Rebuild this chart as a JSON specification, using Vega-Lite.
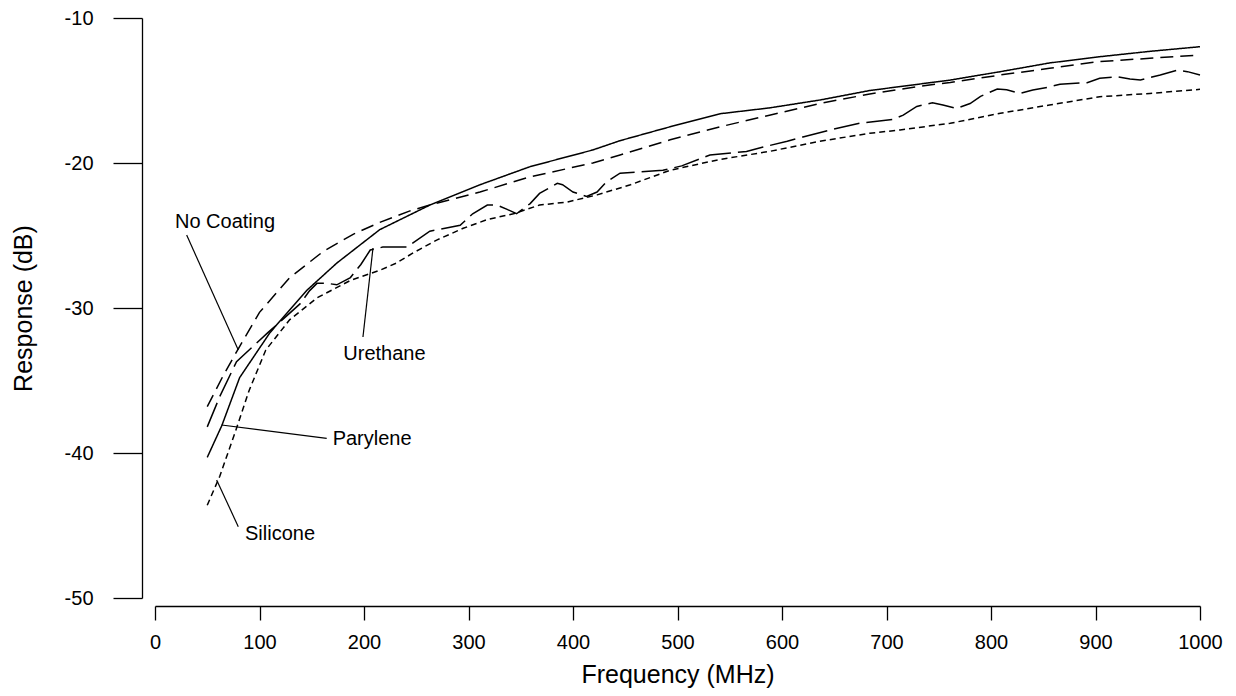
{
  "$schema": "https://vega.github.io/schema/vega-lite/v6.json",
  "width": 1045,
  "height": 580,
  "autosize": {"type": "none"},
  "padding": {"left": 155, "top": 18, "right": 36, "bottom": 98},
  "background": "white",
  "config": {
    "view": {"stroke": null},
    "font": "Liberation Sans",
    "axis": {
      "grid": false,
      "domainColor": "black",
      "domainWidth": 1.3,
      "tickColor": "black",
      "tickWidth": 1.3,
      "labelColor": "black",
      "labelFontSize": 20,
      "labelFont": "Liberation Sans",
      "titleFont": "Liberation Sans",
      "titleFontSize": 25,
      "titleFontWeight": "normal",
      "titleColor": "black",
      "labelFlush": false,
      "labelOverlap": false,
      "labelBound": false,
      "labelExpr": "'' + datum.value"
    }
  },
  "datasets": {
    "curves": [
      {"series": "No Coating", "f": 50, "v": -36.8},
      {"series": "No Coating", "f": 65, "v": -34.7},
      {"series": "No Coating", "f": 79, "v": -32.9},
      {"series": "No Coating", "f": 100, "v": -30.3},
      {"series": "No Coating", "f": 129, "v": -27.9},
      {"series": "No Coating", "f": 161, "v": -26.1},
      {"series": "No Coating", "f": 190, "v": -24.9},
      {"series": "No Coating", "f": 215, "v": -24.1},
      {"series": "No Coating", "f": 244, "v": -23.3},
      {"series": "No Coating", "f": 263, "v": -22.9},
      {"series": "No Coating", "f": 311, "v": -22.0},
      {"series": "No Coating", "f": 359, "v": -20.95},
      {"series": "No Coating", "f": 419, "v": -20.0},
      {"series": "No Coating", "f": 445, "v": -19.45},
      {"series": "No Coating", "f": 493, "v": -18.4},
      {"series": "No Coating", "f": 541, "v": -17.5},
      {"series": "No Coating", "f": 588, "v": -16.7},
      {"series": "No Coating", "f": 636, "v": -15.9},
      {"series": "No Coating", "f": 684, "v": -15.24},
      {"series": "No Coating", "f": 732, "v": -14.7},
      {"series": "No Coating", "f": 761, "v": -14.45},
      {"series": "No Coating", "f": 809, "v": -13.93},
      {"series": "No Coating", "f": 856, "v": -13.47},
      {"series": "No Coating", "f": 904, "v": -13.0},
      {"series": "No Coating", "f": 952, "v": -12.78},
      {"series": "No Coating", "f": 1000, "v": -12.55},

      {"series": "Parylene", "f": 50, "v": -40.3},
      {"series": "Parylene", "f": 64, "v": -38.1},
      {"series": "Parylene", "f": 81, "v": -34.8},
      {"series": "Parylene", "f": 110, "v": -31.7},
      {"series": "Parylene", "f": 145, "v": -28.8},
      {"series": "Parylene", "f": 174, "v": -26.9},
      {"series": "Parylene", "f": 215, "v": -24.6},
      {"series": "Parylene", "f": 263, "v": -22.9},
      {"series": "Parylene", "f": 311, "v": -21.5},
      {"series": "Parylene", "f": 359, "v": -20.25},
      {"series": "Parylene", "f": 419, "v": -19.1},
      {"series": "Parylene", "f": 445, "v": -18.46},
      {"series": "Parylene", "f": 493, "v": -17.5},
      {"series": "Parylene", "f": 541, "v": -16.6},
      {"series": "Parylene", "f": 588, "v": -16.2},
      {"series": "Parylene", "f": 636, "v": -15.66},
      {"series": "Parylene", "f": 684, "v": -15.0},
      {"series": "Parylene", "f": 713, "v": -14.73},
      {"series": "Parylene", "f": 761, "v": -14.28},
      {"series": "Parylene", "f": 809, "v": -13.7},
      {"series": "Parylene", "f": 856, "v": -13.1},
      {"series": "Parylene", "f": 904, "v": -12.67},
      {"series": "Parylene", "f": 952, "v": -12.3},
      {"series": "Parylene", "f": 1000, "v": -11.98},

      {"series": "Urethane", "f": 50, "v": -38.2},
      {"series": "Urethane", "f": 62, "v": -36.1},
      {"series": "Urethane", "f": 78, "v": -33.7},
      {"series": "Urethane", "f": 108, "v": -31.7},
      {"series": "Urethane", "f": 122, "v": -30.8},
      {"series": "Urethane", "f": 139, "v": -29.7},
      {"series": "Urethane", "f": 148, "v": -28.8},
      {"series": "Urethane", "f": 155, "v": -28.3},
      {"series": "Urethane", "f": 165, "v": -28.3},
      {"series": "Urethane", "f": 174, "v": -28.4},
      {"series": "Urethane", "f": 187, "v": -27.9},
      {"series": "Urethane", "f": 197, "v": -27.0},
      {"series": "Urethane", "f": 206, "v": -26.0},
      {"series": "Urethane", "f": 218, "v": -25.8},
      {"series": "Urethane", "f": 241, "v": -25.8},
      {"series": "Urethane", "f": 263, "v": -24.7},
      {"series": "Urethane", "f": 292, "v": -24.3},
      {"series": "Urethane", "f": 304, "v": -23.5},
      {"series": "Urethane", "f": 318, "v": -22.9},
      {"series": "Urethane", "f": 327, "v": -22.9},
      {"series": "Urethane", "f": 337, "v": -23.2},
      {"series": "Urethane", "f": 346, "v": -23.5},
      {"series": "Urethane", "f": 359, "v": -22.8},
      {"series": "Urethane", "f": 368, "v": -22.1},
      {"series": "Urethane", "f": 385, "v": -21.4},
      {"series": "Urethane", "f": 390, "v": -21.5},
      {"series": "Urethane", "f": 400, "v": -22.0},
      {"series": "Urethane", "f": 413, "v": -22.3},
      {"series": "Urethane", "f": 423, "v": -22.0},
      {"series": "Urethane", "f": 432, "v": -21.3},
      {"series": "Urethane", "f": 445, "v": -20.7},
      {"series": "Urethane", "f": 486, "v": -20.5},
      {"series": "Urethane", "f": 504, "v": -20.2},
      {"series": "Urethane", "f": 531, "v": -19.45},
      {"series": "Urethane", "f": 566, "v": -19.2},
      {"series": "Urethane", "f": 582, "v": -18.9},
      {"series": "Urethane", "f": 605, "v": -18.5},
      {"series": "Urethane", "f": 620, "v": -18.2},
      {"series": "Urethane", "f": 653, "v": -17.6},
      {"series": "Urethane", "f": 675, "v": -17.25},
      {"series": "Urethane", "f": 706, "v": -17.0},
      {"series": "Urethane", "f": 716, "v": -16.7},
      {"series": "Urethane", "f": 729, "v": -16.1},
      {"series": "Urethane", "f": 744, "v": -15.84},
      {"series": "Urethane", "f": 754, "v": -16.0},
      {"series": "Urethane", "f": 767, "v": -16.23},
      {"series": "Urethane", "f": 780, "v": -15.9},
      {"series": "Urethane", "f": 790, "v": -15.4},
      {"series": "Urethane", "f": 806, "v": -14.9},
      {"series": "Urethane", "f": 815, "v": -14.95},
      {"series": "Urethane", "f": 828, "v": -15.2},
      {"series": "Urethane", "f": 840, "v": -14.97},
      {"series": "Urethane", "f": 854, "v": -14.78},
      {"series": "Urethane", "f": 866, "v": -14.57},
      {"series": "Urethane", "f": 892, "v": -14.46},
      {"series": "Urethane", "f": 904, "v": -14.16},
      {"series": "Urethane", "f": 921, "v": -14.05},
      {"series": "Urethane", "f": 933, "v": -14.2},
      {"series": "Urethane", "f": 943, "v": -14.28},
      {"series": "Urethane", "f": 962, "v": -13.93},
      {"series": "Urethane", "f": 978, "v": -13.6},
      {"series": "Urethane", "f": 988, "v": -13.7},
      {"series": "Urethane", "f": 1000, "v": -13.93},

      {"series": "Silicone", "f": 50, "v": -43.6},
      {"series": "Silicone", "f": 62, "v": -41.6},
      {"series": "Silicone", "f": 78, "v": -38.3},
      {"series": "Silicone", "f": 90, "v": -35.7},
      {"series": "Silicone", "f": 106, "v": -32.9},
      {"series": "Silicone", "f": 129, "v": -30.8},
      {"series": "Silicone", "f": 155, "v": -29.3},
      {"series": "Silicone", "f": 187, "v": -28.1},
      {"series": "Silicone", "f": 215, "v": -27.4},
      {"series": "Silicone", "f": 231, "v": -26.9},
      {"series": "Silicone", "f": 247, "v": -26.2},
      {"series": "Silicone", "f": 270, "v": -25.3},
      {"series": "Silicone", "f": 295, "v": -24.5},
      {"series": "Silicone", "f": 318, "v": -23.9},
      {"series": "Silicone", "f": 343, "v": -23.5},
      {"series": "Silicone", "f": 368, "v": -22.9},
      {"series": "Silicone", "f": 394, "v": -22.7},
      {"series": "Silicone", "f": 423, "v": -22.2},
      {"series": "Silicone", "f": 455, "v": -21.5},
      {"series": "Silicone", "f": 493, "v": -20.5},
      {"series": "Silicone", "f": 541, "v": -19.75},
      {"series": "Silicone", "f": 588, "v": -19.2},
      {"series": "Silicone", "f": 636, "v": -18.5},
      {"series": "Silicone", "f": 684, "v": -17.95},
      {"series": "Silicone", "f": 713, "v": -17.72},
      {"series": "Silicone", "f": 761, "v": -17.26},
      {"series": "Silicone", "f": 809, "v": -16.57},
      {"series": "Silicone", "f": 856, "v": -16.0},
      {"series": "Silicone", "f": 904, "v": -15.43},
      {"series": "Silicone", "f": 952, "v": -15.2},
      {"series": "Silicone", "f": 1000, "v": -14.92}
    ],
    "leaders": [
      {"label": "No Coating", "f": 30.3, "v": -24.97, "f2": 79.7, "v2": -32.9},
      {"label": "Urethane", "f": 208.6, "v": -25.86, "f2": 199, "v2": -32.0},
      {"label": "Parylene", "f": 63.8, "v": -38.07, "f2": 164.3, "v2": -38.99},
      {"label": "Silicone", "f": 59, "v": -41.86, "f2": 79.7, "v2": -45.08}
    ],
    "labels": [
      {"label": "No Coating", "f": 19.1, "v": -24.45},
      {"label": "Urethane", "f": 180.2, "v": -33.59},
      {"label": "Parylene", "f": 170, "v": -39.45},
      {"label": "Silicone", "f": 86.1, "v": -46.0}
    ]
  },
  "layer": [
    {
      "data": {"name": "curves"},
      "mark": {"type": "line", "color": "black", "strokeWidth": 1.5},
      "encoding": {
        "x": {
          "field": "f",
          "type": "quantitative",
          "scale": {"domain": [0, 1000], "nice": false, "zero": false},
          "axis": {
            "title": "Frequency (MHz)",
            "values": [0, 100, 200, 300, 400, 500, 600, 700, 800, 900, 1000],
            "offset": 8,
            "tickSize": 14,
            "labelPadding": 12,
            "titlePadding": 10
          }
        },
        "y": {
          "field": "v",
          "type": "quantitative",
          "scale": {"domain": [-50, -10], "nice": false, "zero": false},
          "axis": {
            "title": "Response (dB)",
            "values": [-50, -40, -30, -20, -10],
            "offset": 13,
            "tickSize": 29,
            "labelPadding": 20,
            "titlePadding": 28
          }
        },
        "detail": {"field": "series", "type": "nominal"},
        "strokeDash": {
          "field": "series",
          "type": "nominal",
          "scale": {
            "domain": ["No Coating", "Parylene", "Urethane", "Silicone"],
            "range": [[13, 7], [1, 0], [26, 7], [6, 4]]
          },
          "legend": null
        }
      }
    },
    {
      "data": {"name": "leaders"},
      "mark": {"type": "rule", "color": "black", "strokeWidth": 1.2},
      "encoding": {
        "x": {"field": "f", "type": "quantitative"},
        "y": {"field": "v", "type": "quantitative"},
        "x2": {"field": "f2"},
        "y2": {"field": "v2"}
      }
    },
    {
      "data": {"name": "labels"},
      "mark": {"type": "text", "align": "left", "baseline": "alphabetic", "fontSize": 20, "font": "Liberation Sans", "color": "black"},
      "encoding": {
        "x": {"field": "f", "type": "quantitative"},
        "y": {"field": "v", "type": "quantitative"},
        "text": {"field": "label", "type": "nominal"}
      }
    }
  ]
}
